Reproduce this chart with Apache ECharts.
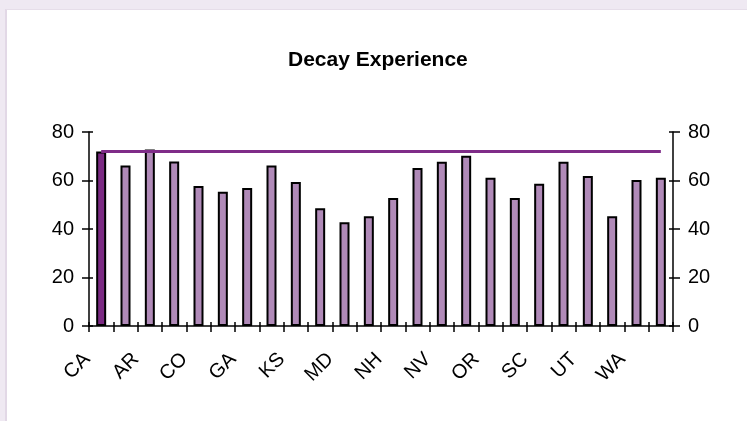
<!DOCTYPE html>
<html>
<head>
<meta charset="utf-8">
<title>Decay Experience</title>
<script src="https://cdn.jsdelivr.net/npm/echarts@6/dist/echarts.min.js"></script>
<style>
  html, body { margin: 0; padding: 0; width: 747px; height: 421px; overflow: hidden; background: #efe9f2; }
  .panel { position: absolute; left: 5px; top: 9px; right: 0; bottom: 0; background: #fff; border-left: 2px solid #e2d8e6; border-top: 1px solid #e6dee9; }
  #main { position: absolute; left: 0; top: 0; width: 747px; height: 421px; }
</style>
</head>
<body>
<div class="panel"></div>
<div id="main"></div>
<script>
// 州（每隔一个显示标签）
var states = ['CA', 'AL', 'AR', 'AZ', 'CO', 'CT', 'GA', 'IA', 'KS', 'KY', 'MD', 'MI',
              'NH', 'NJ', 'NV', 'NY', 'OR', 'PA', 'SC', 'TX', 'UT', 'VA', 'WA', 'WI'];
// 柱子数值
var decay = [72.0, 66.2, 72.8, 67.8, 57.7, 55.4, 56.9, 66.2, 59.4, 48.6, 42.8, 45.3,
             52.8, 65.2, 67.7, 70.2, 61.1, 52.8, 58.7, 67.7, 61.9, 45.3, 60.2, 61.1];
// 基准线 (CA)
var benchmark = 72;
// 纵轴刻度
var yTicks = [0, 20, 40, 60, 80];

var font = "'Liberation Sans', Arial, sans-serif";
var barColor = '#b08ab8';
var highlight = '#7b2a83';
var lineColor = '#7f2c88';

var chart = echarts.init(document.getElementById('main'));

function valueAxis(pos, inside, labels) {
  return {
    type: 'value',
    position: pos,
    min: yTicks[0],
    max: yTicks[yTicks.length - 1],
    interval: yTicks[1] - yTicks[0],
    splitLine: { show: false },
    axisLine: { show: labels, lineStyle: { color: '#000', width: 1.5 } },
    axisTick: { show: true, inside: inside, length: inside ? 4 : 7, lineStyle: { color: '#000', width: 1.5 } },
    axisLabel: { show: labels, color: '#000', fontSize: 20, fontFamily: font, margin: 15 }
  };
}

function catAxis(inside, labels) {
  return {
    type: 'category',
    data: states,
    position: 'bottom',
    boundaryGap: true,
    axisLine: { show: labels, lineStyle: { color: '#000', width: 1.5 } },
    axisTick: { show: true, inside: inside, interval: 0, length: inside ? 4 : 6, lineStyle: { color: '#000', width: 1.5 } },
    axisLabel: {
      show: labels, interval: 1, rotate: 45, margin: 16,
      color: '#000', fontSize: 20, fontFamily: font,
      padding: [0, 20, 0, 0]
    }
  };
}

var option = {
  animation: false,
  title: {
    text: 'Decay Experience',
    left: 288,
    top: 50,
    padding: 0,
    textStyle: { fontSize: 21, fontWeight: 'bold', color: '#000', fontFamily: font }
  },
  grid: { left: 89, right: 74, top: 132, bottom: 95 },
  xAxis: [catAxis(false, true), catAxis(true, false)],
  yAxis: [
    valueAxis('left', false, true),
    valueAxis('right', false, true),
    valueAxis('left', true, false),
    valueAxis('right', true, false)
  ],
  series: [{
    name: 'Decay',
    type: 'bar',
    barWidth: 10,
    silent: true,
    itemStyle: { color: barColor, borderColor: '#000', borderWidth: 2 },
    data: decay.map(function (v, i) {
      return i === 0 ? { value: v, itemStyle: { color: highlight } } : v;
    }),
    markLine: {
      silent: true,
      symbol: 'none',
      label: { show: false },
      lineStyle: { color: lineColor, width: 3, type: 'solid' },
      data: [[
        { coord: [states[0], benchmark] },
        { coord: [states[states.length - 1], benchmark] }
      ]]
    }
  }]
};

chart.setOption(option);
</script>
</body>
</html>
